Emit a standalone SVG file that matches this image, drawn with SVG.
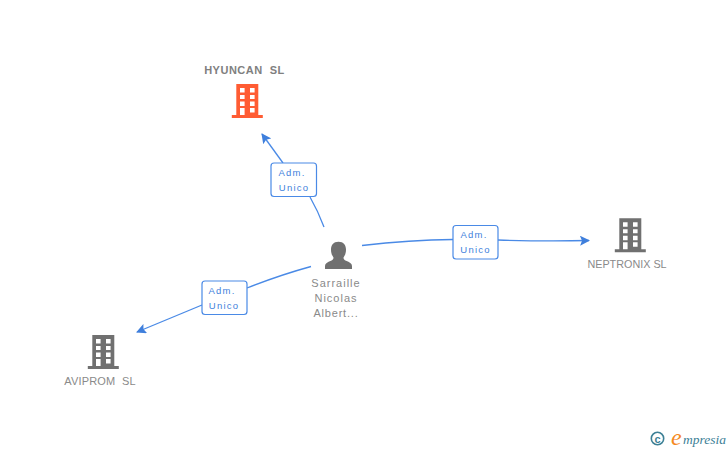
<svg xmlns="http://www.w3.org/2000/svg" width="728" height="450" viewBox="0 0 728 450">
<style>
.lbl{font-family:"Liberation Sans",Arial,sans-serif;font-size:11px;fill:#8a8a8a;text-anchor:middle;white-space:pre}
.edge{fill:none;stroke:#4a8ae6;stroke-width:1.3}
.box{fill:#fff;stroke:#4a8ae6;stroke-width:1.2}
.role{font-family:"Liberation Sans",Arial,sans-serif;font-size:9.500px;fill:#3f7fdc;letter-spacing:1.2px;text-anchor:middle}
.bg{fill:#707070}
.or{fill:#ff5c33}
</style>
<defs>
<marker id="arrow" viewBox="0 0 10 10" refX="9" refY="5" markerWidth="10" markerHeight="10" markerUnits="userSpaceOnUse" orient="auto"><path d="M0 0L10 5L0 10L2 5Z" fill="#3f7fdc"/></marker>
<path id="building" fill-rule="evenodd" d="M0 0H22V31H26.500V34H-4.500V31H0ZM3.700 4V8.500H8.300V4ZM13.700 4V8.500H18.300V4ZM3.700 11V15H8.300V11ZM13.700 11V15H18.300V11ZM3.700 17.500V22H8.300V17.500ZM13.700 17.500V22H18.300V17.500ZM3.700 24V31H8.300V24ZM13.700 24V28.500H18.300V24Z"/>
</defs>
<rect width="728" height="450" fill="#fff"/>
<g id="connectors">
<path class="edge" d="M324 227Q318 211 310 197"/>
<path class="edge" d="M283 163L262 134" marker-end="url(#arrow)"/>
<path class="edge" d="M362 245.500Q410 240 453 239.500"/>
<path class="edge" d="M498 240Q545 241.500 589 240.500" marker-end="url(#arrow)"/>
<path class="edge" d="M311 266.500Q280 275 247 288"/>
<path class="edge" d="M202 305L137 332" marker-end="url(#arrow)"/>
</g>
<g id="node-hyuncan">
<use href="#building" x="236.300" y="84" class="or"/>
<text x="244.500" y="74" class="lbl" style="font-weight:bold;letter-spacing:.5px;fill:#808080">HYUNCAN  SL</text>
</g>
<g id="node-person">
<path class="bg" d="M338.500 241.700C343.500 241.700 346 245 346 249.500C346 253 345 255.500 343.500 257.500C343.500 259.500 344.500 260 346 260.700C349.500 262 352 263.500 352 266V269H325V266C325 263.500 327.500 262 331 260.700C332.500 260 333.500 259.500 333.500 257.500C332 255.500 331 253 331 249.500C331 245 333.500 241.700 338.500 241.700Z"/>
<text x="336" y="287" class="lbl" style="letter-spacing:1px">Sarraille</text>
<text x="336" y="302" class="lbl" style="letter-spacing:1px">Nicolas</text>
<text x="336" y="317" class="lbl" style="letter-spacing:.8px">Albert...</text>
</g>
<g id="node-neptronix">
<use href="#building" x="619.300" y="218.300" class="bg"/>
<text x="627" y="268" class="lbl" style="font-size:10.800px">NEPTRONIX SL</text>
</g>
<g id="node-aviprom">
<use href="#building" x="92.300" y="335" class="bg"/>
<text x="100" y="385" class="lbl" style="letter-spacing:.2px">AVIPROM  SL</text>
</g>
<g id="label-top">
<rect class="box" x="271" y="163" width="45.500" height="33.500" rx="3"/>
<text class="role" x="292" y="176">Adm.</text><text class="role" x="294" y="191">Unico</text>
</g>
<g id="label-right">
<rect class="box" x="453" y="225.500" width="45" height="33.500" rx="3"/>
<text class="role" x="474" y="238">Adm.</text><text class="role" x="475.500" y="253">Unico</text>
</g>
<g id="label-left">
<rect class="box" x="202" y="281" width="45" height="33.500" rx="3"/>
<text class="role" x="222" y="294">Adm.</text><text class="role" x="224" y="309">Unico</text>
</g>
<g id="logo">
<circle cx="657.500" cy="438.500" r="6.200" fill="none" stroke="#3d8096" stroke-width="1.600"/>
<text x="657.500" y="442.500" style="font-family:'Liberation Sans',sans-serif;font-size:11px;font-weight:bold;fill:#3d8096;text-anchor:middle">c</text>
<text x="671" y="445" style="font-family:'Liberation Serif',serif;font-style:italic;font-size:24px;fill:#f58a1f">e<tspan x="683" y="444" style="font-size:13.500px;fill:#3d8096">mpresia</tspan></text>
</g>
</svg>
